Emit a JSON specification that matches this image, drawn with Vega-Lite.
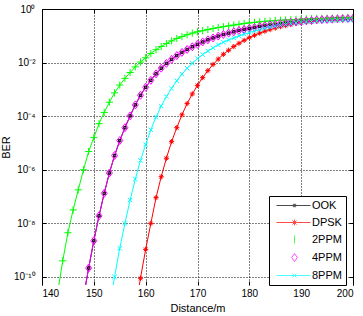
{
  "$schema": "https://vega.github.io/schema/vega-lite/v6.json",
  "width": 311,
  "height": 276,
  "autosize": {"type": "none"},
  "padding": {"left": 42, "top": 9, "right": 10, "bottom": 31},
  "background": "white",
  "config": {
    "font": "Liberation Sans",
    "view": {"stroke": null},
    "axis": {
      "labelFont": "Liberation Sans",
      "labelFontSize": 10,
      "labelColor": "black",
      "titleFont": "Liberation Sans",
      "titleFontSize": 11,
      "titleFontWeight": "normal",
      "titleColor": "black",
      "domainColor": "black",
      "domainWidth": 1,
      "tickColor": "black",
      "tickWidth": 1,
      "gridColor": "black",
      "gridOpacity": 1,
      "gridDash": [1, 2],
      "gridWidth": 1
    }
  },
  "data": {
    "values": [
      {"series": "OOK", "distance": 148, "log10_ber": -10.75},
      {"series": "OOK", "distance": 149, "log10_ber": -9.67},
      {"series": "OOK", "distance": 150, "log10_ber": -8.65},
      {"series": "OOK", "distance": 151, "log10_ber": -7.72},
      {"series": "OOK", "distance": 152, "log10_ber": -6.88},
      {"series": "OOK", "distance": 153, "log10_ber": -6.12},
      {"series": "OOK", "distance": 154, "log10_ber": -5.47},
      {"series": "OOK", "distance": 155, "log10_ber": -4.91},
      {"series": "OOK", "distance": 156, "log10_ber": -4.43},
      {"series": "OOK", "distance": 157, "log10_ber": -3.99},
      {"series": "OOK", "distance": 158, "log10_ber": -3.58},
      {"series": "OOK", "distance": 159, "log10_ber": -3.22},
      {"series": "OOK", "distance": 160, "log10_ber": -2.92},
      {"series": "OOK", "distance": 161, "log10_ber": -2.66},
      {"series": "OOK", "distance": 162, "log10_ber": -2.42},
      {"series": "OOK", "distance": 163, "log10_ber": -2.21},
      {"series": "OOK", "distance": 164, "log10_ber": -2.03},
      {"series": "OOK", "distance": 165, "log10_ber": -1.88},
      {"series": "OOK", "distance": 166, "log10_ber": -1.74},
      {"series": "OOK", "distance": 167, "log10_ber": -1.62},
      {"series": "OOK", "distance": 168, "log10_ber": -1.51},
      {"series": "OOK", "distance": 169, "log10_ber": -1.41},
      {"series": "OOK", "distance": 170, "log10_ber": -1.32},
      {"series": "OOK", "distance": 171, "log10_ber": -1.23},
      {"series": "OOK", "distance": 172, "log10_ber": -1.15},
      {"series": "OOK", "distance": 173, "log10_ber": -1.08},
      {"series": "OOK", "distance": 174, "log10_ber": -1.01},
      {"series": "OOK", "distance": 175, "log10_ber": -0.95},
      {"series": "OOK", "distance": 176, "log10_ber": -0.9},
      {"series": "OOK", "distance": 177, "log10_ber": -0.85},
      {"series": "OOK", "distance": 178, "log10_ber": -0.8},
      {"series": "OOK", "distance": 179, "log10_ber": -0.76},
      {"series": "OOK", "distance": 180, "log10_ber": -0.72},
      {"series": "OOK", "distance": 181, "log10_ber": -0.69},
      {"series": "OOK", "distance": 182, "log10_ber": -0.65},
      {"series": "OOK", "distance": 183, "log10_ber": -0.62},
      {"series": "OOK", "distance": 184, "log10_ber": -0.59},
      {"series": "OOK", "distance": 185, "log10_ber": -0.57},
      {"series": "OOK", "distance": 186, "log10_ber": -0.54},
      {"series": "OOK", "distance": 187, "log10_ber": -0.52},
      {"series": "OOK", "distance": 188, "log10_ber": -0.5},
      {"series": "OOK", "distance": 189, "log10_ber": -0.48},
      {"series": "OOK", "distance": 190, "log10_ber": -0.46},
      {"series": "OOK", "distance": 191, "log10_ber": -0.44},
      {"series": "OOK", "distance": 192, "log10_ber": -0.43},
      {"series": "OOK", "distance": 193, "log10_ber": -0.41},
      {"series": "OOK", "distance": 194, "log10_ber": -0.4},
      {"series": "OOK", "distance": 195, "log10_ber": -0.39},
      {"series": "OOK", "distance": 196, "log10_ber": -0.38},
      {"series": "OOK", "distance": 197, "log10_ber": -0.37},
      {"series": "OOK", "distance": 198, "log10_ber": -0.36},
      {"series": "OOK", "distance": 199, "log10_ber": -0.355},
      {"series": "OOK", "distance": 200, "log10_ber": -0.35},

      {"series": "DPSK", "distance": 158, "log10_ber": -11.2},
      {"series": "DPSK", "distance": 159, "log10_ber": -10.05},
      {"series": "DPSK", "distance": 160, "log10_ber": -8.97},
      {"series": "DPSK", "distance": 161, "log10_ber": -8.0},
      {"series": "DPSK", "distance": 162, "log10_ber": -7.04},
      {"series": "DPSK", "distance": 163, "log10_ber": -6.26},
      {"series": "DPSK", "distance": 164, "log10_ber": -5.57},
      {"series": "DPSK", "distance": 165, "log10_ber": -4.95},
      {"series": "DPSK", "distance": 166, "log10_ber": -4.43},
      {"series": "DPSK", "distance": 167, "log10_ber": -3.95},
      {"series": "DPSK", "distance": 168, "log10_ber": -3.53},
      {"series": "DPSK", "distance": 169, "log10_ber": -3.17},
      {"series": "DPSK", "distance": 170, "log10_ber": -2.85},
      {"series": "DPSK", "distance": 171, "log10_ber": -2.56},
      {"series": "DPSK", "distance": 172, "log10_ber": -2.3},
      {"series": "DPSK", "distance": 173, "log10_ber": -2.07},
      {"series": "DPSK", "distance": 174, "log10_ber": -1.87},
      {"series": "DPSK", "distance": 175, "log10_ber": -1.69},
      {"series": "DPSK", "distance": 176, "log10_ber": -1.54},
      {"series": "DPSK", "distance": 177, "log10_ber": -1.4},
      {"series": "DPSK", "distance": 178, "log10_ber": -1.28},
      {"series": "DPSK", "distance": 179, "log10_ber": -1.17},
      {"series": "DPSK", "distance": 180, "log10_ber": -1.07},
      {"series": "DPSK", "distance": 181, "log10_ber": -0.98},
      {"series": "DPSK", "distance": 182, "log10_ber": -0.9},
      {"series": "DPSK", "distance": 183, "log10_ber": -0.83},
      {"series": "DPSK", "distance": 184, "log10_ber": -0.77},
      {"series": "DPSK", "distance": 185, "log10_ber": -0.71},
      {"series": "DPSK", "distance": 186, "log10_ber": -0.66},
      {"series": "DPSK", "distance": 187, "log10_ber": -0.62},
      {"series": "DPSK", "distance": 188, "log10_ber": -0.58},
      {"series": "DPSK", "distance": 189, "log10_ber": -0.54},
      {"series": "DPSK", "distance": 190, "log10_ber": -0.51},
      {"series": "DPSK", "distance": 191, "log10_ber": -0.48},
      {"series": "DPSK", "distance": 192, "log10_ber": -0.46},
      {"series": "DPSK", "distance": 193, "log10_ber": -0.44},
      {"series": "DPSK", "distance": 194, "log10_ber": -0.42},
      {"series": "DPSK", "distance": 195, "log10_ber": -0.41},
      {"series": "DPSK", "distance": 196, "log10_ber": -0.4},
      {"series": "DPSK", "distance": 197, "log10_ber": -0.39},
      {"series": "DPSK", "distance": 198, "log10_ber": -0.38},
      {"series": "DPSK", "distance": 199, "log10_ber": -0.375},
      {"series": "DPSK", "distance": 200, "log10_ber": -0.37},

      {"series": "2PPM", "distance": 143, "log10_ber": -10.6},
      {"series": "2PPM", "distance": 144, "log10_ber": -9.4},
      {"series": "2PPM", "distance": 145, "log10_ber": -8.35},
      {"series": "2PPM", "distance": 146, "log10_ber": -7.5},
      {"series": "2PPM", "distance": 147, "log10_ber": -6.75},
      {"series": "2PPM", "distance": 148, "log10_ber": -6.0},
      {"series": "2PPM", "distance": 149, "log10_ber": -5.32},
      {"series": "2PPM", "distance": 150, "log10_ber": -4.8},
      {"series": "2PPM", "distance": 151, "log10_ber": -4.28},
      {"series": "2PPM", "distance": 152, "log10_ber": -3.86},
      {"series": "2PPM", "distance": 153, "log10_ber": -3.48},
      {"series": "2PPM", "distance": 154, "log10_ber": -3.13},
      {"series": "2PPM", "distance": 155, "log10_ber": -2.84},
      {"series": "2PPM", "distance": 156, "log10_ber": -2.59},
      {"series": "2PPM", "distance": 157, "log10_ber": -2.37},
      {"series": "2PPM", "distance": 158, "log10_ber": -2.16},
      {"series": "2PPM", "distance": 159, "log10_ber": -1.98},
      {"series": "2PPM", "distance": 160, "log10_ber": -1.82},
      {"series": "2PPM", "distance": 161, "log10_ber": -1.66},
      {"series": "2PPM", "distance": 162, "log10_ber": -1.52},
      {"series": "2PPM", "distance": 163, "log10_ber": -1.4},
      {"series": "2PPM", "distance": 164, "log10_ber": -1.29},
      {"series": "2PPM", "distance": 165, "log10_ber": -1.19},
      {"series": "2PPM", "distance": 166, "log10_ber": -1.1},
      {"series": "2PPM", "distance": 167, "log10_ber": -1.03},
      {"series": "2PPM", "distance": 168, "log10_ber": -0.96},
      {"series": "2PPM", "distance": 169, "log10_ber": -0.9},
      {"series": "2PPM", "distance": 170, "log10_ber": -0.85},
      {"series": "2PPM", "distance": 171, "log10_ber": -0.81},
      {"series": "2PPM", "distance": 172, "log10_ber": -0.77},
      {"series": "2PPM", "distance": 173, "log10_ber": -0.73},
      {"series": "2PPM", "distance": 174, "log10_ber": -0.69},
      {"series": "2PPM", "distance": 175, "log10_ber": -0.66},
      {"series": "2PPM", "distance": 176, "log10_ber": -0.63},
      {"series": "2PPM", "distance": 177, "log10_ber": -0.6},
      {"series": "2PPM", "distance": 178, "log10_ber": -0.57},
      {"series": "2PPM", "distance": 179, "log10_ber": -0.54},
      {"series": "2PPM", "distance": 180, "log10_ber": -0.52},
      {"series": "2PPM", "distance": 181, "log10_ber": -0.5},
      {"series": "2PPM", "distance": 182, "log10_ber": -0.48},
      {"series": "2PPM", "distance": 183, "log10_ber": -0.46},
      {"series": "2PPM", "distance": 184, "log10_ber": -0.45},
      {"series": "2PPM", "distance": 185, "log10_ber": -0.43},
      {"series": "2PPM", "distance": 186, "log10_ber": -0.42},
      {"series": "2PPM", "distance": 187, "log10_ber": -0.41},
      {"series": "2PPM", "distance": 188, "log10_ber": -0.4},
      {"series": "2PPM", "distance": 189, "log10_ber": -0.39},
      {"series": "2PPM", "distance": 190, "log10_ber": -0.38},
      {"series": "2PPM", "distance": 191, "log10_ber": -0.37},
      {"series": "2PPM", "distance": 192, "log10_ber": -0.36},
      {"series": "2PPM", "distance": 193, "log10_ber": -0.355},
      {"series": "2PPM", "distance": 194, "log10_ber": -0.35},
      {"series": "2PPM", "distance": 195, "log10_ber": -0.345},
      {"series": "2PPM", "distance": 196, "log10_ber": -0.34},
      {"series": "2PPM", "distance": 197, "log10_ber": -0.335},
      {"series": "2PPM", "distance": 198, "log10_ber": -0.33},
      {"series": "2PPM", "distance": 199, "log10_ber": -0.325},
      {"series": "2PPM", "distance": 200, "log10_ber": -0.32},

      {"series": "4PPM", "distance": 148, "log10_ber": -10.75},
      {"series": "4PPM", "distance": 149, "log10_ber": -9.67},
      {"series": "4PPM", "distance": 150, "log10_ber": -8.65},
      {"series": "4PPM", "distance": 151, "log10_ber": -7.72},
      {"series": "4PPM", "distance": 152, "log10_ber": -6.88},
      {"series": "4PPM", "distance": 153, "log10_ber": -6.12},
      {"series": "4PPM", "distance": 154, "log10_ber": -5.47},
      {"series": "4PPM", "distance": 155, "log10_ber": -4.91},
      {"series": "4PPM", "distance": 156, "log10_ber": -4.43},
      {"series": "4PPM", "distance": 157, "log10_ber": -3.99},
      {"series": "4PPM", "distance": 158, "log10_ber": -3.58},
      {"series": "4PPM", "distance": 159, "log10_ber": -3.22},
      {"series": "4PPM", "distance": 160, "log10_ber": -2.92},
      {"series": "4PPM", "distance": 161, "log10_ber": -2.66},
      {"series": "4PPM", "distance": 162, "log10_ber": -2.42},
      {"series": "4PPM", "distance": 163, "log10_ber": -2.21},
      {"series": "4PPM", "distance": 164, "log10_ber": -2.03},
      {"series": "4PPM", "distance": 165, "log10_ber": -1.88},
      {"series": "4PPM", "distance": 166, "log10_ber": -1.74},
      {"series": "4PPM", "distance": 167, "log10_ber": -1.62},
      {"series": "4PPM", "distance": 168, "log10_ber": -1.51},
      {"series": "4PPM", "distance": 169, "log10_ber": -1.41},
      {"series": "4PPM", "distance": 170, "log10_ber": -1.32},
      {"series": "4PPM", "distance": 171, "log10_ber": -1.23},
      {"series": "4PPM", "distance": 172, "log10_ber": -1.15},
      {"series": "4PPM", "distance": 173, "log10_ber": -1.08},
      {"series": "4PPM", "distance": 174, "log10_ber": -1.01},
      {"series": "4PPM", "distance": 175, "log10_ber": -0.95},
      {"series": "4PPM", "distance": 176, "log10_ber": -0.9},
      {"series": "4PPM", "distance": 177, "log10_ber": -0.85},
      {"series": "4PPM", "distance": 178, "log10_ber": -0.8},
      {"series": "4PPM", "distance": 179, "log10_ber": -0.76},
      {"series": "4PPM", "distance": 180, "log10_ber": -0.72},
      {"series": "4PPM", "distance": 181, "log10_ber": -0.69},
      {"series": "4PPM", "distance": 182, "log10_ber": -0.65},
      {"series": "4PPM", "distance": 183, "log10_ber": -0.62},
      {"series": "4PPM", "distance": 184, "log10_ber": -0.59},
      {"series": "4PPM", "distance": 185, "log10_ber": -0.57},
      {"series": "4PPM", "distance": 186, "log10_ber": -0.54},
      {"series": "4PPM", "distance": 187, "log10_ber": -0.52},
      {"series": "4PPM", "distance": 188, "log10_ber": -0.5},
      {"series": "4PPM", "distance": 189, "log10_ber": -0.48},
      {"series": "4PPM", "distance": 190, "log10_ber": -0.46},
      {"series": "4PPM", "distance": 191, "log10_ber": -0.44},
      {"series": "4PPM", "distance": 192, "log10_ber": -0.43},
      {"series": "4PPM", "distance": 193, "log10_ber": -0.41},
      {"series": "4PPM", "distance": 194, "log10_ber": -0.4},
      {"series": "4PPM", "distance": 195, "log10_ber": -0.39},
      {"series": "4PPM", "distance": 196, "log10_ber": -0.38},
      {"series": "4PPM", "distance": 197, "log10_ber": -0.37},
      {"series": "4PPM", "distance": 198, "log10_ber": -0.36},
      {"series": "4PPM", "distance": 199, "log10_ber": -0.355},
      {"series": "4PPM", "distance": 200, "log10_ber": -0.35},

      {"series": "8PPM", "distance": 153, "log10_ber": -11.1},
      {"series": "8PPM", "distance": 154, "log10_ber": -10.0},
      {"series": "8PPM", "distance": 155, "log10_ber": -8.93},
      {"series": "8PPM", "distance": 156, "log10_ber": -8.0},
      {"series": "8PPM", "distance": 157, "log10_ber": -7.13},
      {"series": "8PPM", "distance": 158, "log10_ber": -6.35},
      {"series": "8PPM", "distance": 159, "log10_ber": -5.65},
      {"series": "8PPM", "distance": 160, "log10_ber": -5.06},
      {"series": "8PPM", "distance": 161, "log10_ber": -4.51},
      {"series": "8PPM", "distance": 162, "log10_ber": -4.04},
      {"series": "8PPM", "distance": 163, "log10_ber": -3.62},
      {"series": "8PPM", "distance": 164, "log10_ber": -3.27},
      {"series": "8PPM", "distance": 165, "log10_ber": -2.96},
      {"series": "8PPM", "distance": 166, "log10_ber": -2.68},
      {"series": "8PPM", "distance": 167, "log10_ber": -2.43},
      {"series": "8PPM", "distance": 168, "log10_ber": -2.21},
      {"series": "8PPM", "distance": 169, "log10_ber": -2.02},
      {"series": "8PPM", "distance": 170, "log10_ber": -1.85},
      {"series": "8PPM", "distance": 171, "log10_ber": -1.7},
      {"series": "8PPM", "distance": 172, "log10_ber": -1.57},
      {"series": "8PPM", "distance": 173, "log10_ber": -1.45},
      {"series": "8PPM", "distance": 174, "log10_ber": -1.34},
      {"series": "8PPM", "distance": 175, "log10_ber": -1.24},
      {"series": "8PPM", "distance": 176, "log10_ber": -1.16},
      {"series": "8PPM", "distance": 177, "log10_ber": -1.08},
      {"series": "8PPM", "distance": 178, "log10_ber": -1.01},
      {"series": "8PPM", "distance": 179, "log10_ber": -0.94},
      {"series": "8PPM", "distance": 180, "log10_ber": -0.88},
      {"series": "8PPM", "distance": 181, "log10_ber": -0.82},
      {"series": "8PPM", "distance": 182, "log10_ber": -0.77},
      {"series": "8PPM", "distance": 183, "log10_ber": -0.72},
      {"series": "8PPM", "distance": 184, "log10_ber": -0.68},
      {"series": "8PPM", "distance": 185, "log10_ber": -0.64},
      {"series": "8PPM", "distance": 186, "log10_ber": -0.61},
      {"series": "8PPM", "distance": 187, "log10_ber": -0.58},
      {"series": "8PPM", "distance": 188, "log10_ber": -0.55},
      {"series": "8PPM", "distance": 189, "log10_ber": -0.52},
      {"series": "8PPM", "distance": 190, "log10_ber": -0.5},
      {"series": "8PPM", "distance": 191, "log10_ber": -0.485},
      {"series": "8PPM", "distance": 192, "log10_ber": -0.47},
      {"series": "8PPM", "distance": 193, "log10_ber": -0.455},
      {"series": "8PPM", "distance": 194, "log10_ber": -0.445},
      {"series": "8PPM", "distance": 195, "log10_ber": -0.435},
      {"series": "8PPM", "distance": 196, "log10_ber": -0.43},
      {"series": "8PPM", "distance": 197, "log10_ber": -0.42},
      {"series": "8PPM", "distance": 198, "log10_ber": -0.415},
      {"series": "8PPM", "distance": 199, "log10_ber": -0.41},
      {"series": "8PPM", "distance": 200, "log10_ber": -0.405}
    ]
  },
  "layer": [
    {
      "mark": {"type": "line", "strokeWidth": 1, "clip": true},
      "encoding": {
        "x": {
          "field": "distance",
          "type": "quantitative",
          "scale": {"domain": [140, 200], "nice": false, "zero": false},
          "axis": {
            "orient": "bottom",
            "title": "Distance/m",
            "values": [140, 150, 160, 170, 180, 190, 200],
            "domain": false,
            "tickSize": -4,
            "labelPadding": 7,
            "titlePadding": 4,
            "grid": true
          }
        },
        "y": {
          "field": "log10_ber",
          "type": "quantitative",
          "scale": {"domain": [-10.301, 0], "nice": false, "zero": false},
          "axis": {
            "orient": "left",
            "title": "BER",
            "titleX": -31,
            "titleY": 138,
            "titleAngle": -90,
            "titleBaseline": "bottom",
            "titleAlign": "center",
            "values": [-10, -8, -6, -4, -2, 0],
            "labelExpr": "datum.value == 0 ? '10⁰' : datum.value == -2 ? '10⁻²' : datum.value == -4 ? '10⁻⁴' : datum.value == -6 ? '10⁻⁶' : datum.value == -8 ? '10⁻⁸' : '10⁻¹⁰'",
            "tickSize": -4,
            "labelPadding": 11,
            "grid": true
          }
        },
        "color": {
          "field": "series",
          "type": "nominal",
          "scale": {
            "domain": ["OOK", "DPSK", "2PPM", "4PPM", "8PPM"],
            "range": ["#000000", "#ff0000", "#00ff00", "#ff00ff", "#00ffff"]
          },
          "legend": null
        }
      }
    },
    {
      "mark": {"type": "point", "filled": false, "strokeWidth": 1, "size": 64, "opacity": 1, "clip": true},
      "encoding": {
        "x": {
          "field": "distance",
          "type": "quantitative",
          "axis": {
            "orient": "top",
            "title": null,
            "labels": false,
            "values": [140, 150, 160, 170, 180, 190, 200],
            "tickSize": -4,
            "grid": false
          }
        },
        "y": {
          "field": "log10_ber",
          "type": "quantitative",
          "axis": {
            "orient": "right",
            "title": null,
            "labels": false,
            "values": [-10, -8, -6, -4, -2, 0],
            "tickSize": -4,
            "grid": false
          }
        },
        "stroke": {
          "field": "series",
          "type": "nominal",
          "scale": {
            "domain": ["OOK", "DPSK", "2PPM", "4PPM", "8PPM"],
            "range": ["#000000", "#ff0000", "#00ff00", "#ff00ff", "#00ffff"]
          },
          "legend": null
        },
        "shape": {
          "field": "series",
          "type": "nominal",
          "scale": {
            "domain": ["OOK", "DPSK", "2PPM", "4PPM", "8PPM"],
            "range": [
              "M-0.3,-0.3H0.3V0.3H-0.3Z",
              "M-0.65,0H0.65M0,-0.65V0.65M-0.45,-0.45L0.45,0.45M-0.45,0.45L0.45,-0.45",
              "M-0.9,0H0.9M0,-0.9V0.9",
              "M-0.75,0L0,-1L0.75,0L0,1Z",
              "M-0.55,-0.55L0.55,0.55M-0.55,0.55L0.55,-0.55"
            ]
          },
          "legend": null
        }
      }
    },
    {
      "transform": [{"filter": "datum.distance < 0"}],
      "mark": {"type": "point", "filled": false, "strokeWidth": 1, "size": 16},
      "encoding": {
        "stroke": {
          "field": "series",
          "type": "nominal",
          "scale": {
            "domain": ["OOK", "DPSK", "2PPM", "4PPM", "8PPM"],
            "range": ["#000000", "#ff0000", "#00ff00", "#ff00ff", "#00ffff"]
          },
          "legend": {
            "orient": "none",
            "legendX": 227,
            "legendY": 187,
            "title": null,
            "padding": 4,
            "strokeColor": "black",
            "fillColor": "white",
            "cornerRadius": 0,
            "symbolSize": 16,
            "symbolStrokeWidth": 1,
            "labelOffset": 28,
            "labelFont": "Liberation Sans",
            "labelFontSize": 11,
            "labelColor": "black",
            "rowPadding": 5
          }
        },
        "shape": {
          "field": "series",
          "type": "nominal",
          "scale": {
            "domain": ["OOK", "DPSK", "2PPM", "4PPM", "8PPM"],
            "range": [
              "M-1,0H16M7.4,-0.6H8.6V0.6H7.4Z",
              "M-1,0H16M6.6,0H9.4M8,-1.4V1.4M7,-1L9,1M7,1L9,-1",
              "M8,-2V2",
              "M6.6,0L8,-2L9.4,0L8,2Z",
              "M-1,0H16M7,-1L9,1M7,1L9,-1"
            ]
          },
          "legend": {
            "orient": "none",
            "legendX": 227,
            "legendY": 187,
            "title": null,
            "padding": 4,
            "strokeColor": "black",
            "fillColor": "white",
            "cornerRadius": 0,
            "symbolSize": 16,
            "symbolStrokeWidth": 1,
            "labelOffset": 28,
            "labelFont": "Liberation Sans",
            "labelFontSize": 11,
            "labelColor": "black",
            "rowPadding": 5
          }
        }
      }
    }
  ],
  "resolve": {
    "axis": {"x": "independent", "y": "independent"},
    "scale": {"shape": "independent", "stroke": "independent"},
    "legend": {"shape": "independent", "stroke": "independent"}
  }
}
